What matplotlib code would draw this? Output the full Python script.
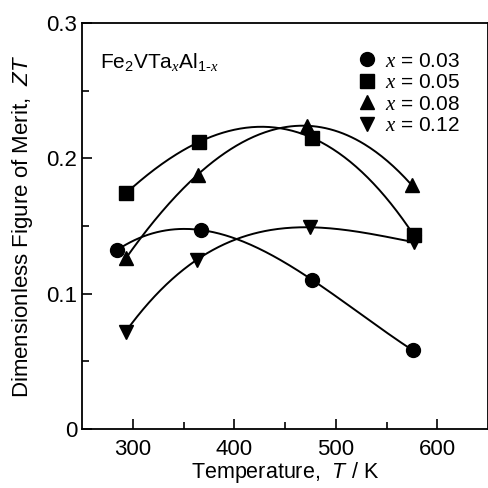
import matplotlib
matplotlib.use('Agg')
import matplotlib.pyplot as plt
import numpy as np

plt.rcParams['font.family'] = ['Liberation Sans', 'DejaVu Sans']
plt.rcParams['mathtext.fontset'] = 'custom'
plt.rcParams['mathtext.rm'] = 'Liberation Sans'
plt.rcParams['mathtext.it'] = 'Liberation Serif:italic'
plt.rcParams['mathtext.sf'] = 'Liberation Sans:italic'

# datos
T_003 = [284, 367, 477, 576]
zt_003 = [0.132, 0.147, 0.110, 0.058]
T_005 = [293, 365, 477, 577]
zt_005 = [0.174, 0.212, 0.215, 0.143]
T_008 = [293, 364, 472, 575]
zt_008 = [0.126, 0.188, 0.224, 0.180]
T_012 = [293, 363, 475, 577]
zt_012 = [0.072, 0.125, 0.149, 0.138]

series = [(T_003, zt_003, 'o', '0.03', 10),
          (T_005, zt_005, 's', '0.05', 9.5),
          (T_008, zt_008, '^', '0.08', 10.5),
          (T_012, zt_012, 'v', '0.12', 10.5)]

fig = plt.figure(figsize=(4.89, 4.88), dpi=100)
ax = fig.add_axes([0.168, 0.121, 0.830, 0.832])

for T, zt, m, lab, ms in series:
    # curva suave (polinomio cubico por los 4 puntos)
    c = np.polyfit(T, zt, 3)
    xx = np.linspace(min(T), max(T), 200)
    ax.plot(xx, np.polyval(c, xx), color='black', lw=1.4)
    ax.plot(T, zt, m, color='black', ms=ms, label=r'$x$ = ' + lab)

ax.set_xlim(250, 650)
ax.set_ylim(0, 0.3)
ax.set_xticks([300, 400, 500, 600])
ax.set_xticks([350, 450, 550], minor=True)
ax.set_yticks([0, 0.1, 0.2, 0.3])
ax.set_yticklabels(['0', '0.1', '0.2', '0.3'])
ax.set_yticks([0.05, 0.15, 0.25], minor=True)
ax.tick_params(which='both', direction='in', labelsize=16, width=1.2)
ax.tick_params(which='major', length=7)
ax.tick_params(which='minor', length=5)
ax.tick_params(axis='x', pad=7)
for s in ax.spines.values():
    s.set_linewidth(1.3)

ax.set_xlabel(r'Temperature,  $\mathsf{T}$ / K', fontsize=15.5, labelpad=0)
ax.set_ylabel(r'Dimensionless Figure of Merit,  $\mathsf{ZT}$', fontsize=16, labelpad=8)

ax.text(0.045, 0.89, 'Fe$_2$VTa$_x$Al$_{1\u2010x}$', transform=ax.transAxes, fontsize=15)

ax.legend(loc='upper left', bbox_to_anchor=(0.66, 0.95), frameon=False, fontsize=15,
          handlelength=0.8, handletextpad=0.5, labelspacing=0.12, borderaxespad=0)

plt.savefig('out.png', dpi=100)
